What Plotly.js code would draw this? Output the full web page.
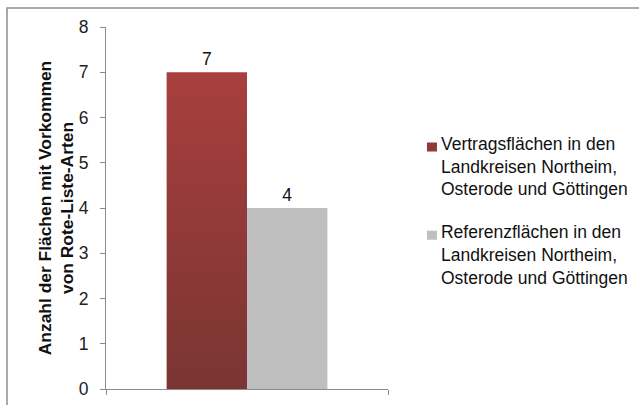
<!DOCTYPE html>
<html>
<head>
<meta charset="utf-8">
<script src="https://cdn.plot.ly/plotly-3.0.1.min.js"></script>
<style>
html,body{margin:0;padding:0;background:#fff;}
#chart{width:639px;height:405px;}
</style>
</head>
<body>
<div id="chart"></div>
<script>
// Data
const categories = ["Flächen"];
const seriesNames = [
  "Vertragsflächen in den<br>Landkreisen Northeim,<br>Osterode und Göttingen",
  "Referenzflächen in den<br>Landkreisen Northeim,<br>Osterode und Göttingen"
];
const vertragsValues = [7];
const referenzValues = [4];
const yTickValues = [0,1,2,3,4,5,6,7,8];
const yTickLabels = ["0","1","2","3","4","5","6","7","8"];
const yAxisTitle = "Anzahl der Flächen mit Vorkommen<br>von Rote-Liste-Arten";

const font = "Liberation Sans, Arial, sans-serif";

const traces = [
  {
    type: "bar", x: categories, y: vertragsValues, name: seriesNames[0],
    legendgroup: "a",
    marker: {color: "#923a38"},
    text: vertragsValues.map(String), textposition: "outside",
    textfont: {family: font, size: 17.5, color: "#111"},
    cliponaxis: false
  },
  {
    type: "bar", x: categories, y: referenzValues, name: seriesNames[1],
    legendgroup: "b",
    marker: {color: "#bfbfbf"},
    text: referenzValues.map(String), textposition: "outside",
    textfont: {family: font, size: 17.5, color: "#111"},
    cliponaxis: false
  }
];

const layout = {
  width: 639, height: 405,
  margin: {l: 106, r: 251, t: 27, b: 16, autoexpand: false},
  paper_bgcolor: "#fff", plot_bgcolor: "#fff",
  barmode: "group", bargap: 0.43, bargroupgap: 0,
  font: {family: font, size: 17, color: "#222"},
  showlegend: true,
  legend: {
    xref: "container", yref: "container",
    x: 0.6275, xanchor: "left", y: 0.691, yanchor: "top",
    font: {family: font, size: 17.5, color: "#111"},
    traceorder: "grouped", tracegroupgap: 17, valign: "top",
    itemwidth: 30, bgcolor: "rgba(0,0,0,0)"
  },
  xaxis: {
    type: "category", showticklabels: false, showline: true,
    linecolor: "#8c8c8c", linewidth: 1, ticks: "outside", tickson: "boundaries",
    ticklen: 5, tickcolor: "#8c8c8c", showgrid: false, zeroline: false,
    fixedrange: true
  },
  yaxis: {
    range: [0, 8], tickvals: yTickValues, ticktext: yTickLabels,
    showline: true, linecolor: "#8c8c8c", linewidth: 1,
    ticks: "outside", ticklen: 5, tickcolor: "#8c8c8c",
    showgrid: false, zeroline: false, ticklabelstandoff: 8,
    tickfont: {family: font, size: 17.5, color: "#222"},
    title: {text: yAxisTitle, font: {family: font, size: 17.4, color: "#111", weight: "bold"}, standoff: 0},
    fixedrange: true
  },
  shapes: [
    {type: "rect", xref: "paper", yref: "paper", x0: -0.351, x1: 2, y0: -0.5, y1: 1.0525,
     line: {color: "#8f8f8f", width: 1.5}, fillcolor: "rgba(0,0,0,0)", layer: "below"}
  ]
};

Plotly.newPlot("chart", traces, layout, {displayModeBar: false, staticPlot: true}).then(function(gd){
  // apply vertical gradient to the first series (as in the original)
  const svg = gd.querySelector("svg.main-svg");
  const ns = "http://www.w3.org/2000/svg";
  let defs = svg.querySelector("defs");
  if (!defs) { defs = document.createElementNS(ns, "defs"); svg.insertBefore(defs, svg.firstChild); }
  const lg = document.createElementNS(ns, "linearGradient");
  lg.setAttribute("id", "redgrad");
  lg.setAttribute("x1", "0"); lg.setAttribute("y1", "0");
  lg.setAttribute("x2", "0"); lg.setAttribute("y2", "1");
  const s1 = document.createElementNS(ns, "stop");
  s1.setAttribute("offset", "0"); s1.setAttribute("stop-color", "#a83f3d");
  const s2 = document.createElementNS(ns, "stop");
  s2.setAttribute("offset", "1"); s2.setAttribute("stop-color", "#7a3533");
  lg.appendChild(s1); lg.appendChild(s2); defs.appendChild(lg);
  const barPaths = gd.querySelectorAll(".barlayer .trace:first-child .point path");
  barPaths.forEach(function(p){ p.style.fill = "url(#redgrad)"; });
  // legend symbol size/position like the original (smaller squares, close to text)
  gd.querySelectorAll(".legend .legendpoints path").forEach(function(p){
    p.setAttribute("d", "M5,4.5H-5V-4.5H5Z");
    p.setAttribute("transform", "translate(31,4)");
  });
});
</script>
</body>
</html>
